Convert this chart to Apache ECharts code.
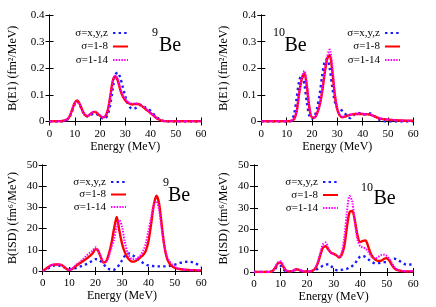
<!DOCTYPE html>
<html><head><meta charset="utf-8">
<script src="https://cdn.jsdelivr.net/npm/echarts@6/dist/echarts.min.js"></script>
<style>html,body{margin:0;padding:0;background:#fff}#c{width:436px;height:307px}</style>
</head><body><div id="c"></div>
<script>
const energy = [0,1,2,3,4,5,6,7,8,9,10,11,12,13,14,15,16,17,18,19,20,21,22,23,24,25,26,27,28,29,30,31,32,33,34,35,36,37,38,39,40,41,42,43,44,45,46,47,48,49,50,51,52,53,54,55,56,57,58,59,60];
const seriesNames = ['σ=x,y,z', 'σ=1-8', 'σ=1-14'];

// 9Be E1
const be9E1_xyz = [0,0,0,0,0,0,0.002,0.006,0.018,0.04,0.065,0.075,0.062,0.04,0.024,0.02,0.022,0.028,0.03,0.026,0.018,0.012,0.012,0.025,0.06,0.12,0.175,0.184,0.165,0.13,0.095,0.068,0.052,0.048,0.05,0.058,0.062,0.058,0.052,0.048,0.04,0.03,0.02,0.012,0.006,0.002,0,0,0,0,0,0,0,0,0,0,0,0,0,0,0];
const be9E1_s8 = [0,0,0.001,0.001,0.001,0.002,0.004,0.008,0.02,0.045,0.07,0.079,0.065,0.042,0.025,0.02,0.026,0.034,0.036,0.03,0.022,0.016,0.018,0.04,0.09,0.15,0.17,0.155,0.12,0.095,0.08,0.07,0.066,0.064,0.066,0.066,0.062,0.055,0.047,0.04,0.032,0.024,0.016,0.009,0.004,0.002,0.001,0.001,0.001,0.001,0.001,0.001,0.001,0.001,0.001,0.001,0.001,0.001,0.001,0.001,0.001];
const be9E1_s14 = [0,0,0.001,0.001,0.001,0.002,0.004,0.008,0.02,0.046,0.071,0.078,0.064,0.042,0.026,0.021,0.027,0.035,0.037,0.031,0.023,0.017,0.019,0.04,0.088,0.148,0.172,0.16,0.125,0.1,0.085,0.074,0.069,0.067,0.068,0.067,0.063,0.056,0.048,0.041,0.033,0.025,0.017,0.01,0.005,0.002,0.001,0.001,0.001,0.001,0.001,0.001,0.001,0.001,0.001,0.001,0.001,0.001,0.001,0.001,0.001];

// 10Be E1
const be10E1_xyz = [0,0,0,0,0,0,0,0,0,0,0,0,0.004,0.03,0.09,0.155,0.175,0.14,0.07,0.02,0.01,0.02,0.05,0.1,0.17,0.225,0.235,0.2,0.13,0.075,0.05,0.045,0.04,0.03,0.02,0.013,0.02,0.028,0.032,0.03,0.026,0.027,0.03,0.03,0.025,0.018,0.01,0.005,0.002,0,0,0,0,0,0,0,0,0,0,0,0];
const be10E1_s8 = [0.001,0.001,0.001,0.001,0.001,0.001,0.001,0.001,0.001,0.001,0.001,0.001,0.003,0.01,0.04,0.11,0.16,0.181,0.13,0.05,0.015,0.015,0.03,0.06,0.11,0.18,0.235,0.25,0.19,0.1,0.045,0.022,0.016,0.018,0.022,0.025,0.027,0.028,0.028,0.028,0.028,0.027,0.027,0.025,0.022,0.018,0.014,0.011,0.009,0.008,0.007,0.006,0.005,0.005,0.004,0.004,0.004,0.003,0.003,0.003,0.003];
const be10E1_s14 = [0.001,0.001,0.001,0.001,0.001,0.001,0.001,0.001,0.001,0.001,0.001,0.001,0.003,0.01,0.04,0.11,0.165,0.19,0.14,0.055,0.017,0.015,0.03,0.06,0.115,0.19,0.245,0.27,0.21,0.11,0.05,0.024,0.018,0.019,0.023,0.026,0.028,0.029,0.029,0.029,0.029,0.028,0.028,0.026,0.023,0.019,0.015,0.012,0.01,0.009,0.008,0.007,0.006,0.005,0.005,0.004,0.004,0.004,0.003,0.003,0.003];

// 9Be ISD
const be9ISD_xyz = [0,0.5,1.2,2,2.5,2.6,2.6,2.4,1.8,1.2,1,1,1.2,1.5,2,2.5,3,3.5,4.2,5,5.6,5.4,4.5,3.2,2,1,0.5,0.6,1.5,3,5,7,8.3,8.2,7.5,6.5,5.5,4.6,3.8,3.1,2.6,2.4,2.3,2.2,2.2,2.2,2.2,2.3,2.4,2.7,3,3.4,3.8,4.1,4.3,4.4,4.3,4,3.5,2.8,2];
const be9ISD_s8 = [0,0.8,1.8,2.6,3,3.1,3.1,2.9,2,1,0.5,0.8,1.8,2.8,3.6,4.5,5.3,6.2,7.2,8.5,10.3,9.5,6.5,4,4.5,8,13,20,25.5,19,13,9,6.5,5,4.4,4.6,5.5,6.5,7.5,9.5,14,22,31,35.5,32,22,12,6,3.5,2.2,1.5,1.1,0.9,0.7,0.6,0.5,0.4,0.4,0.3,0.3,0.3];
const be9ISD_s14 = [0,0.8,1.8,2.6,3,3.1,3.1,2.9,2,1,0.5,0.9,2,3.2,4.2,5.3,6.5,7.8,8.8,9.8,11.2,9.8,6.8,4.3,4.5,7,11,15,21,24,21,14,9,6.5,5.5,5.5,6.3,7.5,9.5,13,19,25,31,33,29,20,12,7,4.5,3,2,1.4,1,0.8,0.6,0.5,0.4,0.4,0.3,0.3,0.3];

// 10Be ISD
const be10ISD_xyz = [0,0,0,0,0,0,0,0.3,1.5,2.8,2.8,1.2,0.4,0.3,0.4,0.8,1,0.8,0.5,0.3,0.3,0.3,0.5,0.8,1.5,2.2,3,3.4,3.6,2.8,1.5,0.9,0.8,1,1.2,1.5,2,2.8,4,5.8,7.2,7.5,7,6,5,4.3,4,4.2,4.5,4.6,4.5,5,5.8,6.2,5.8,5,4.2,3.6,3.4,3.5,3.5];
const be10ISD_s8 = [0,0,0,0,0,0,0.1,0.5,2,4,4.5,2.5,0.8,0.3,0.3,0.8,1.3,1,0.5,0.2,0.2,0.3,0.6,1.5,4,8,11.5,12,10.5,9,8.5,7.8,6.8,8,12,21,28,28.5,24,17,14,14.5,14.8,12,8.5,6.5,5.5,5.2,5.3,6.2,6.4,5.2,3.2,1.6,0.9,0.6,0.4,0.3,0.3,0.3,0.3];
const be10ISD_s14 = [0,0,0,0,0,0,0.1,0.6,2.3,4.5,5,3,1,0.4,0.4,0.9,1.3,1.1,0.6,0.2,0.2,0.3,0.6,1.6,4.5,9,13,13.8,11,9,8.5,7.8,7,9,16,28,35.5,33,23,15,12,11.5,11,9.5,7.5,6.5,6.5,7.2,8,8.1,7.5,6,4,2.2,1.2,0.7,0.5,0.4,0.3,0.3,0.3];

const xTicks = {min: 0, max: 60, interval: 10};
const yTicksE1 = {min: 0, max: 0.4, interval: 0.1};
const yTicksISD = {min: 0, max: 50, interval: 10};

const FONT = 'Liberation Serif';
const panels = [
  {grid: {left: 49.5, top: 15, width: 151.5, height: 106.5}, y: yTicksE1, yName: 'B(E1) (fm²/MeV)', yGap: 31,
   data: [be9E1_xyz, be9E1_s8, be9E1_s14], legend: {right: 307, top: 27, gap: 1.5}},
  {grid: {left: 261.3, top: 15, width: 152, height: 106.5}, y: yTicksE1, yName: 'B(E1) (fm²/MeV)', yGap: 31,
   data: [be10E1_xyz, be10E1_s8, be10E1_s14], legend: {right: 35, top: 27, gap: 1.5}},
  {grid: {left: 42.7, top: 165, width: 158.6, height: 106}, y: yTicksISD, yName: 'B(ISD) (fm⁶/MeV)', yGap: 23.5,
   data: [be9ISD_xyz, be9ISD_s8, be9ISD_s14], legend: {right: 309, top: 176, gap: 0.5}},
  {grid: {left: 254, top: 165, width: 159.3, height: 107}, y: yTicksISD, yName: 'B(ISD) (fm⁶/MeV)', yGap: 24,
   data: [be10ISD_xyz, be10ISD_s8, be10ISD_s14], legend: {right: 97, top: 176, gap: 1}}
];

const lineStyles = [
  {color: '#1a1aff', width: 2.4, type: [2.4, 3.2]},
  {color: '#ff0000', width: 2.4, type: 'solid'},
  {color: '#ff00ff', width: 2, type: [1.5, 1.3]}
];

const grid = [], xAxis = [], yAxis = [], series = [], legend = [];
const axisCommon = {
  axisLine: {show: true, lineStyle: {color: '#000', width: 1}},
  axisTick: {show: true, inside: true, length: 4, lineStyle: {color: '#000'}},
  splitLine: {show: false}
};
panels.forEach((p, gi) => {
  grid.push(Object.assign({containLabel: false}, p.grid));
  xAxis.push(Object.assign({
    type: 'value', gridIndex: gi, position: 'bottom',
    name: 'Energy (MeV)', nameLocation: 'middle', nameGap: 19,
    nameTextStyle: {fontFamily: FONT, fontSize: 12, color: '#000'},
    axisLabel: {fontFamily: FONT, fontSize: 11, color: '#000', margin: 7}
  }, xTicks, axisCommon));
  xAxis.push(Object.assign({
    type: 'value', gridIndex: gi, position: 'top', axisLabel: {show: false}
  }, xTicks, axisCommon));
  yAxis.push(Object.assign({
    type: 'value', gridIndex: gi, position: 'left',
    name: p.yName, nameLocation: 'middle', nameGap: p.yGap, nameRotate: 90,
    nameTextStyle: {fontFamily: FONT, fontSize: 12, color: '#000'},
    axisLabel: {fontFamily: FONT, fontSize: 11, color: '#000', margin: 5}
  }, p.y, axisCommon));
  yAxis.push(Object.assign({
    type: 'value', gridIndex: gi, position: 'right', axisLabel: {show: false}
  }, p.y, axisCommon));
  p.data.forEach((vals, si) => {
    series.push({
      type: 'line', name: seriesNames[si], xAxisIndex: gi * 2, yAxisIndex: gi * 2,
      data: energy.map((e, i) => [e, vals[i]]),
      smooth: 0.3, symbol: 'none', clip: true,
      lineStyle: lineStyles[si], itemStyle: {color: lineStyles[si].color},
      z: 2 + si
    });
  });
  legend.push({
    orient: 'vertical', align: 'right', right: p.legend.right, top: p.legend.top,
    itemWidth: 15, itemHeight: 10, itemGap: p.legend.gap, padding: 0,
    data: seriesNames, selectedMode: false,
    itemStyle: {opacity: 0},
    textStyle: {fontFamily: FONT, fontSize: 11, color: '#000', lineHeight: 12}
  });
});

const labels = [
  {sup: '9', supX: 152, supY: 33, be: 159, beY: 46},
  {sup: '10', supX: 273, supY: 33, be: 284.5, beY: 46},
  {sup: '9', supX: 163, supY: 183, be: 168, beY: 196},
  {sup: '10', supX: 361, supY: 188, be: 373.5, beY: 199}
];
const graphic = [];
labels.forEach(l => {
  graphic.push({type: 'text', x: l.supX, y: l.supY, style: {text: l.sup, font: '12px "Liberation Serif"', fill: '#000', textAlign: 'left', textVerticalAlign: 'middle'}});
  graphic.push({type: 'text', x: l.be, y: l.beY, style: {text: 'Be', font: '20px "Liberation Serif"', fill: '#000', textAlign: 'left', textVerticalAlign: 'middle'}});
});

const chart = echarts.init(document.getElementById('c'), null, {renderer: 'canvas'});
chart.setOption({animation: false, backgroundColor: '#fff', grid, xAxis, yAxis, series, legend, graphic});
</script></body></html>
